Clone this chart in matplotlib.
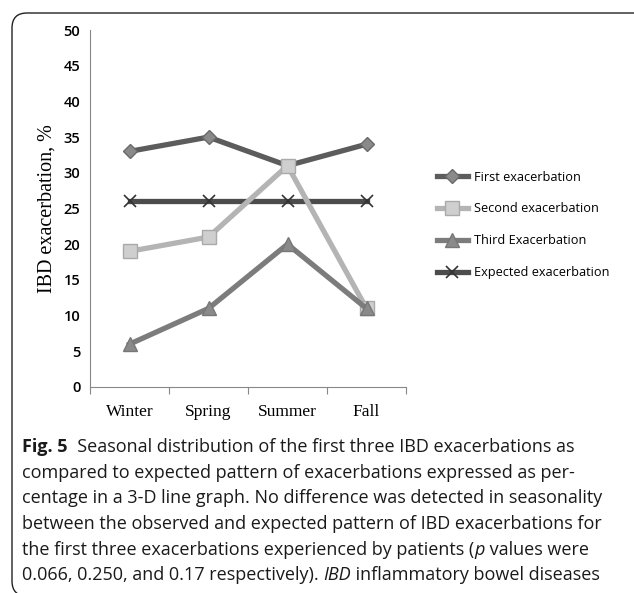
import matplotlib.pyplot as plt
from matplotlib.patches import FancyBboxPatch

seasons = ["Winter", "Spring", "Summer", "Fall"]
first = [33, 35, 31, 34]
second = [19, 21, 31, 11]
third = [6, 11, 20, 11]
expected = [26, 26, 26, 26]
y_ticks = [0, 5, 10, 15, 20, 25, 30, 35, 40, 45, 50]

W, H = 634, 593
fig = plt.figure(figsize=(W / 100, H / 100), dpi=100)

# rounded frame around the figure panel
box = FancyBboxPatch((0.20, 0.05), 6.40, 5.67,
                     boxstyle="round,pad=0.08,rounding_size=0.15",
                     transform=fig.dpi_scale_trans, fill=False,
                     edgecolor="#222222", linewidth=1.0)
fig.patches.append(box)

ax = fig.add_axes([90 / W, 1 - 387 / H, (406 - 90) / W, (387 - 30) / H])
x = range(len(seasons))

ax.plot(x, first, color="#5c5c5c", lw=3.8, marker="D", ms=7.5,
        mfc="#8a8a8a", mec="#6a6a6a", label="First exacerbation", zorder=3)
ax.plot(x, second, color="#b4b4b4", lw=3.8, marker="s", ms=10,
        mfc="#cfcfcf", mec="#aaaaaa", label="Second exacerbation", zorder=3)
ax.plot(x, third, color="#7c7c7c", lw=3.8, marker="^", ms=9.5,
        mfc="#8a8a8a", mec="#777777", label="Third Exacerbation", zorder=3)
ax.plot(x, expected, color="#4c4c4c", lw=3.8, marker="x", ms=9, mew=1.2,
        mec="#333333", label="Expected exacerbation", zorder=2)

ax.set_xlim(-0.5, 3.5)
ax.set_ylim(0, 50)
ax.set_yticks(y_ticks)
ax.set_yticklabels([str(v) for v in y_ticks], family="Open Sans",
                   fontsize=10.5, fontweight="semibold")
ax.tick_params(axis="y", length=0, pad=7)
ax.set_xticks([-0.5, 0.5, 1.5, 2.5, 3.5])
ax.set_xticklabels([])
ax.set_xticks(x, minor=True)
ax.set_xticklabels(seasons, minor=True, family="Liberation Serif", fontsize=12.5)
ax.tick_params(axis="x", which="major", length=5, color="#888888", direction="out")
ax.tick_params(axis="x", which="minor", length=0, pad=12)
for s in ["top", "right"]:
    ax.spines[s].set_visible(False)
for s in ["left", "bottom"]:
    ax.spines[s].set_color("#888888")
ax.set_ylabel("IBD exacerbation, %", family="Liberation Serif", fontsize=14.5,
              labelpad=5)

leg = fig.legend(loc="upper left", bbox_to_anchor=(425 / W, 1 - 159 / H),
                 frameon=False, prop={"family": "Open Sans", "size": 9.2},
                 handlelength=2.5, labelspacing=1.48, handletextpad=0.4)

# caption, drawn piece by piece so bold and italic parts sit inline
cap_lines = [
    [("Fig. 5", "bold", "normal"), ("  Seasonal distribution of the first three IBD exacerbations as", "normal", "normal")],
    [("compared to expected pattern of exacerbations expressed as per-", "normal", "normal")],
    [("centage in a 3-D line graph. No difference was detected in seasonality", "normal", "normal")],
    [("between the observed and expected pattern of IBD exacerbations for", "normal", "normal")],
    [("the first three exacerbations experienced by patients (", "normal", "normal"), ("p", "normal", "italic"), (" values were", "normal", "normal")],
    [("0.066, 0.250, and 0.17 respectively). ", "normal", "normal"), ("IBD", "normal", "italic"), (" inflammatory bowel diseases", "normal", "normal")],
]
renderer = fig.canvas.get_renderer()
y0 = 447
for i, line in enumerate(cap_lines):
    xp = 22
    yp = y0 + i * 25.7
    for txt, wt, st in line:
        t = fig.text(xp / W, 1 - yp / H, txt, family="Open Sans", fontsize=13,
                     fontweight=wt, fontstyle=st, va="center", ha="left",
                     color="#1a1a1a")
        bb = t.get_window_extent(renderer)
        xp += bb.width

fig.savefig("out.png", dpi=100)
